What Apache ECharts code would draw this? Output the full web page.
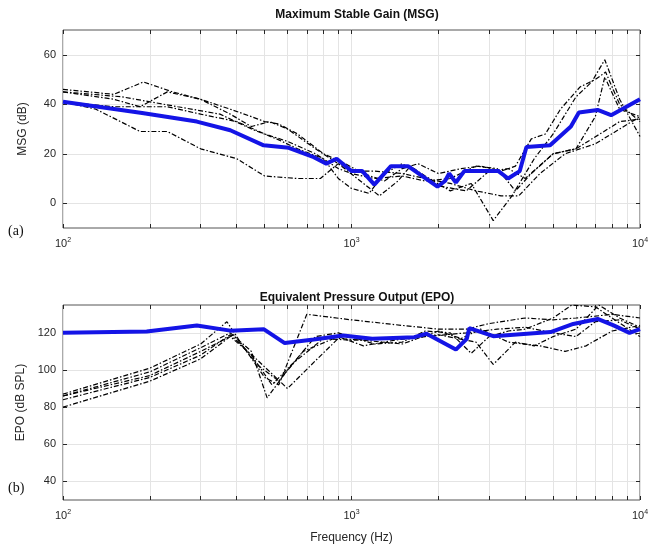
<!DOCTYPE html>
<html lang="en">
<head>
    <meta charset="UTF-8">
    <title>MSG / EPO</title>
    <script src="https://cdn.jsdelivr.net/npm/echarts@6/dist/echarts.min.js"></script>
    <style>
        html, body { margin: 0; padding: 0; background: #fff; }
        #charts { width: 652px; height: 547px; }
    </style>
</head>
<body>
<div id="charts"></div>
<script>
    // ---- axis ticks ----
    var xMajor = [100, 1000, 10000];
    var xTicks = [100, 200, 300, 400, 500, 600, 700, 800, 900,
        1000, 2000, 3000, 4000, 5000, 6000, 7000, 8000, 9000, 10000];
    var msgTicks = [0, 20, 40, 60];
    var epoTicks = [40, 60, 80, 100, 120];

    // ---- MSG (top) : frequency / value pairs ----
    var msgBlueF = [100, 188, 291, 380, 496, 606, 740, 818, 888, 1000, 1090, 1200, 1370, 1570, 1710, 1986, 2110, 2180, 2300, 2460, 3230, 3490, 3830, 4040, 4880, 5760, 6140, 7130, 7940, 10000];
    var msgBlueV = [41, 36.5, 33, 29.5, 23.4, 22.4, 18.6, 16, 18, 13, 13, 7.5, 15, 15, 12, 6.7, 9, 12, 8.4, 13, 13, 10, 13, 22.7, 23.4, 31, 36.7, 37.7, 35.6, 42];

    var msgF1 = [100, 150, 190, 240, 300, 380, 450, 520, 600, 750, 900, 1100, 1250, 1450, 1600, 1800, 2200, 2600, 3100, 3600, 4300, 5000, 6000, 6800, 7550, 8500, 10000];
    var msgV1 = [46, 44, 49, 45, 42, 36, 31, 33, 30, 22, 16, 8, 3, 9, 15, 11, 5, 8, -7, 3, 18, 28, 43, 49, 58, 42, 27];
    var msgF2 = [100, 150, 185, 230, 300, 380, 450, 500, 560, 650, 800, 950, 1100, 1300, 1500, 1700, 2000, 2400, 2800, 3300, 3700, 4200, 4700, 5300, 6200, 7000, 7600, 8500, 10000];
    var msgV2 = [45, 42, 39, 45, 42, 38, 35, 33, 32, 28, 20, 16, 12, 9, 14, 16, 12, 14, 15, 13, 15, 26, 28, 38, 47, 50, 53, 40, 33];
    var msgF3 = [100, 150, 230, 300, 400, 500, 600, 750, 900, 1000, 1200, 1500, 1800, 2200, 2700, 3200, 3700, 4200, 5000, 6000, 7000, 7550, 8500, 10000];
    var msgV3 = [41, 39, 39, 36, 33, 28, 25, 20, 14, 12, 10, 11, 9, 10, 15, 14, 5, 12, 20, 22, 35, 51, 38, 35];
    var msgF4 = [100, 130, 185, 230, 300, 400, 500, 650, 780, 900, 1000, 1200, 1500, 1800, 2200, 2700, 3300, 3800, 4500, 5500, 7000, 8500, 10000];
    var msgV4 = [41, 38, 29, 29, 22, 18, 11, 10, 10, 16, 13, 13, 12, 10, 8, 5, 3, 3, 12, 20, 24, 30, 35];
    var msgF5 = [100, 160, 250, 350, 450, 550, 650, 800, 900, 1000, 1150, 1300, 1500, 1700, 2000, 2500, 3000, 3500, 4000, 5000, 6000, 7500, 8500, 10000];
    var msgV5 = [45, 43, 39, 36, 30, 26, 22, 18, 10, 6, 4, 12, 16, 12, 7, 5, 13, 14, 10, 20, 22, 29, 33, 34];

    // ---- EPO (bottom) ----
    var epoBlueF = [100, 195, 291, 380, 496, 587, 740, 935, 1180, 1650, 1820, 2300, 2510, 2560, 3100, 4900, 5870, 7130, 8100, 9200, 10000];
    var epoBlueV = [120, 120.7, 124, 121.2, 122, 114.5, 116.4, 118.6, 116.8, 117.7, 119.5, 111, 116.8, 122.5, 118.2, 120.4, 124.8, 127.5, 124, 120, 122];

    var epoF1 = [100, 200, 300, 370, 420, 500, 560, 700, 1000, 1500, 2000, 2500, 3000, 4000, 5000, 6000, 7000, 8000, 10000];
    var epoV1 = [87, 101, 114, 126, 113, 96, 92, 130, 127, 124, 122, 122, 125, 128, 127, 128, 129, 130, 128];
    var epoF2 = [100, 200, 300, 380, 450, 510, 600, 750, 900, 1200, 1500, 1800, 2200, 2600, 3000, 3500, 4000, 5000, 5800, 7000, 8000, 10000];
    var epoV2 = [86, 99, 112, 120, 110, 85, 100, 118, 120, 114, 115, 121, 120, 109, 118, 121, 122, 128, 135, 134, 128, 118];
    var epoF3 = [100, 200, 300, 380, 450, 530, 620, 800, 1000, 1500, 2000, 2700, 3100, 3700, 4300, 5000, 6000, 7200, 8500, 10000];
    var epoV3 = [84, 96, 108, 119, 108, 92, 103, 117, 116, 117, 119, 115, 103, 115, 113, 118, 122, 135, 128, 123];
    var epoF4 = [100, 200, 300, 380, 460, 600, 750, 900, 1100, 1500, 2000, 2400, 2800, 3500, 4500, 5500, 6500, 8000, 10000];
    var epoV4 = [80, 94, 106, 118, 107, 90, 105, 117, 116, 114, 121, 117, 122, 115, 113, 110, 113, 121, 124];
    var epoF5 = [100, 200, 300, 390, 470, 560, 680, 900, 1100, 1400, 1800, 2500, 3200, 4000, 5000, 6000, 7000, 8500, 10000];
    var epoV5 = [86, 97, 110, 119, 103, 94, 110, 118, 113, 116, 118, 120, 122, 123, 120, 118, 126, 127, 122];

    function pairs(f, v) {
        return f.map(function (x, i) { return [x, v[i]]; });
    }

    var textColor = '#262626';
    var gridColor = '#e4e4e4';

    function logAxis(gi, opts) {
        var a = {
            type: 'log', logBase: 10, min: 100, max: 10000, gridIndex: gi,
            axisLine: { show: false, onZero: false },
            axisTick: { show: true, inside: true, length: 4, customValues: xTicks, lineStyle: { color: textColor } },
            axisLabel: {
                show: true, customValues: xMajor, margin: 9, color: textColor, fontSize: 11,
                fontFamily: 'Liberation Sans',
                formatter: function (v) { return '10{s|' + Math.round(Math.log10(v)) + '}'; },
                rich: { s: { fontSize: 7, padding: [0, 0, 7, 0], color: textColor, fontFamily: 'Liberation Sans' } }
            },
            splitLine: { show: true, lineStyle: { color: gridColor, width: 1 } }
        };
        return Object.assign(a, opts || {});
    }

    function valAxis(gi, mn, mx, ticks, opts) {
        var a = {
            type: 'value', gridIndex: gi, min: mn, max: mx,
            axisLine: { show: false, onZero: false },
            axisTick: { show: true, inside: true, length: 4, customValues: ticks, lineStyle: { color: textColor } },
            axisLabel: { customValues: ticks, color: textColor, fontSize: 11, fontFamily: 'Liberation Sans', margin: 7 },
            splitLine: { show: true, lineStyle: { color: gridColor, width: 1 } },
            nameLocation: 'middle', nameGap: 34,
            nameTextStyle: { color: textColor, fontSize: 12, fontFamily: 'Liberation Sans' }
        };
        return Object.assign(a, opts || {});
    }

    function dashLine(name, data, xi, yi) {
        return {
            name: name, type: 'line', xAxisIndex: xi, yAxisIndex: yi, data: data,
            showSymbol: false, symbol: 'none', z: 2,
            lineStyle: { color: '#000', width: 1.2, type: [5, 2, 1.5, 2] }
        };
    }

    function blueLine(name, data, xi, yi) {
        return {
            name: name, type: 'line', xAxisIndex: xi, yAxisIndex: yi, data: data,
            showSymbol: false, symbol: 'none', z: 5,
            lineStyle: { color: '#1414e6', width: 4 }
        };
    }

    var myChart = echarts.init(document.getElementById('charts'));

    var option = {
        animation: false,
        backgroundColor: '#fff',
        title: [
            { text: 'Maximum Stable Gain (MSG)', left: 352, top: 4, textAlign: 'center',
              textStyle: { fontSize: 12, fontWeight: 'bold', color: '#111', fontFamily: 'Liberation Sans' } },
            { text: 'Equivalent Pressure Output (EPO)', left: 352, top: 287, textAlign: 'center',
              textStyle: { fontSize: 12, fontWeight: 'bold', color: '#111', fontFamily: 'Liberation Sans' } }
        ],
        grid: [
            { left: 63, right: 12, top: 30, height: 198, show: true, borderColor: '#555', borderWidth: 1 },
            { left: 63, right: 12, top: 305, height: 195, show: true, borderColor: '#555', borderWidth: 1 }
        ],
        xAxis: [
            logAxis(0),
            logAxis(1, { name: 'Frequency (Hz)', nameLocation: 'middle', nameGap: 32,
                nameTextStyle: { color: textColor, fontSize: 12, fontFamily: 'Liberation Sans' } }),
            logAxis(0, { position: 'top', axisLabel: { show: false }, splitLine: { show: false } }),
            logAxis(1, { position: 'top', axisLabel: { show: false }, splitLine: { show: false } })
        ],
        yAxis: [
            valAxis(0, -10, 70, msgTicks, { name: 'MSG (dB)' }),
            valAxis(1, 30, 135, epoTicks, { name: 'EPO (dB SPL)' }),
            valAxis(0, -10, 70, msgTicks, { position: 'right', axisLabel: { show: false }, splitLine: { show: false } }),
            valAxis(1, 30, 135, epoTicks, { position: 'right', axisLabel: { show: false }, splitLine: { show: false } })
        ],
        graphic: [
            { type: 'text', left: 8, top: 224, style: { text: '(a)', fontSize: 14, fill: '#111', fontFamily: 'Liberation Serif' } },
            { type: 'text', left: 8, top: 481, style: { text: '(b)', fontSize: 14, fill: '#111', fontFamily: 'Liberation Serif' } }
        ],
        series: [
            dashLine('msg1', pairs(msgF1, msgV1), 0, 0),
            dashLine('msg2', pairs(msgF2, msgV2), 0, 0),
            dashLine('msg3', pairs(msgF3, msgV3), 0, 0),
            dashLine('msg4', pairs(msgF4, msgV4), 0, 0),
            dashLine('msg5', pairs(msgF5, msgV5), 0, 0),
            blueLine('msgMean', pairs(msgBlueF, msgBlueV), 0, 0),
            dashLine('epo1', pairs(epoF1, epoV1), 1, 1),
            dashLine('epo2', pairs(epoF2, epoV2), 1, 1),
            dashLine('epo3', pairs(epoF3, epoV3), 1, 1),
            dashLine('epo4', pairs(epoF4, epoV4), 1, 1),
            dashLine('epo5', pairs(epoF5, epoV5), 1, 1),
            blueLine('epoMean', pairs(epoBlueF, epoBlueV), 1, 1)
        ]
    };

    myChart.setOption(option);
</script>
</body>
</html>
